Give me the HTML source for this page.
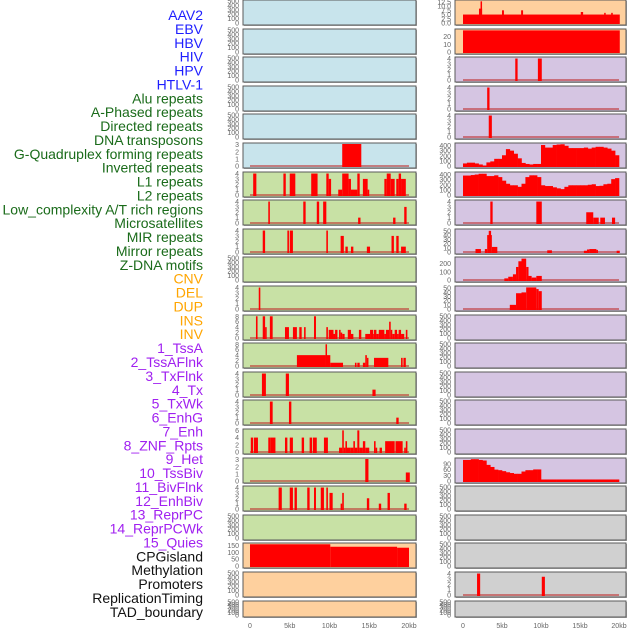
<!DOCTYPE html>
<html><head><meta charset="utf-8"><style>
html,body{margin:0;padding:0;background:#fff;width:630px;height:630px;overflow:hidden}
svg{display:block;font-family:"Liberation Sans",sans-serif}
</style></head><body>
<svg id="chart" width="630" height="630" viewBox="0 0 630 630" xmlns="http://www.w3.org/2000/svg"></svg>
<script>
const NS="http://www.w3.org/2000/svg";
const svg=document.getElementById('chart');

// ---- data ----
const trackLabels=["AAV2","EBV","HBV","HIV","HPV","HTLV-1","Alu repeats","A-Phased repeats","Directed repeats","DNA transposons","G-Quadruplex forming repeats","Inverted repeats","L1 repeats","L2 repeats","Low_complexity A/T rich regions","Microsatellites","MIR repeats","Mirror repeats","Z-DNA motifs","CNV","DEL","DUP","INS","INV","1_TssA","2_TssAFlnk","3_TxFlnk","4_Tx","5_TxWk","6_EnhG","7_Enh","8_ZNF_Rpts","9_Het","10_TssBiv","11_BivFlnk","12_EnhBiv","13_ReprPC","14_ReprPCWk","15_Quies","CPGisland","Methylation","Promoters","ReplicationTiming","TAD_boundary"];
const labelGroups=[6,13,5,15,5];
const kbTicks=[0,5,10,15,20];
const kbTickLabels=["0","5kb","10kb","15kb","20kb"];
const emptyTicks=[0,100,200,300,400,500];
const ticks04=[0,1,2,3,4];
const ticks03=[0,1,2,3];
const ticks08=[0,2,4,6,8];
const ticks06=[0,2,4,6];
const ticks400=[0,100,200,300,400];
const ticks50=[0,10,20,30,40,50];

// left column bars [startKb,endKb,value]
const L5_bars=[[11.6,14.0,3.1]];
const L6_bars=[[0.4,0.8,4],[4.2,4.5,4],[5.0,5.7,4],[7.7,8.5,4],[9.6,9.9,4],[9.9,10.2,3],[11.1,11.6,1],[11.6,12.4,4],[12.4,12.7,3],[12.7,13.5,1],[13.5,13.8,4],[14.2,14.8,3],[14.8,15.0,1],[16.9,17.2,3],[17.2,17.7,4],[17.7,18.2,3],[18.4,18.7,3],[18.7,19.0,4],[19.0,19.6,3]];
const L7_bars=[[2.3,2.5,4],[6.7,7.0,4],[8.4,8.7,4],[9.2,9.6,4],[13.6,13.9,1],[18.0,18.3,1],[19.4,19.7,3]];
const L8_bars=[[1.6,1.9,4],[4.7,4.9,4],[5.0,5.4,4],[9.6,9.8,4],[11.4,11.8,3],[12.0,12.3,1],[12.7,13.0,1],[14.7,15.1,1],[17.8,18.1,3],[18.4,18.7,3],[19.0,19.6,1]];
const L10_bars=[[1.1,1.3,4]];
const L11_bars=[[0.75,0.95,8],[1.6,1.9,8],[1.9,2.1,4],[2.5,2.85,8],[4.4,4.9,4],[5.4,5.9,4],[6.2,6.5,4],[6.8,7.0,4],[8.05,8.3,8],[9.6,9.8,4],[9.9,10.5,3],[10.5,10.7,1.5],[10.7,11.0,3],[11.2,11.4,3],[11.4,11.6,2],[11.6,11.9,1.5],[12.3,12.7,3],[12.7,13.0,1.5],[13.7,14.0,3],[14.5,15.1,1.5],[15.1,15.5,3],[15.5,15.6,1.5],[15.6,15.9,3],[15.9,16.2,1.5],[16.2,16.9,3],[16.9,17.1,1.5],[17.1,17.5,3],[17.5,17.7,6],[17.7,17.9,3],[17.9,18.2,1.5],[18.2,18.5,3],[18.5,18.7,1.5],[18.7,19.0,3],[19.0,19.4,1.5],[19.6,19.8,3]];
const L12_bars=[[5.9,9.5,4],[9.5,9.6,8],[9.6,10.1,4],[10.1,11.7,1.2],[13.2,13.4,1.2],[13.5,13.8,1.2],[14.2,14.5,1.2],[14.5,14.7,4],[14.7,14.9,3],[15.6,17.4,3],[19.0,19.2,3],[19.3,19.6,3]];
const L13_bars=[[1.5,2.0,4],[4.5,4.9,4],[15.4,15.8,1]];
const L14_bars=[[2.5,2.85,4],[4.9,5.2,4],[18.4,18.7,1]];
const L15_bars=[[0.1,0.4,4],[0.5,1.0,4],[2.3,2.6,4],[2.6,3.2,4],[4.4,4.7,4],[5.0,5.4,4],[6.5,6.8,4],[7.5,7.8,4],[7.9,8.4,4],[9.3,9.8,4],[11.2,11.6,1.2],[11.6,11.8,6],[11.8,12.0,1.2],[12.0,12.2,3],[12.2,12.6,1.2],[12.6,13.0,1.2],[13.0,13.2,3],[13.2,13.5,1.2],[13.5,13.75,6],[13.75,14.2,1.2],[14.2,14.5,3],[14.5,15.0,1.2],[15.6,15.8,3],[15.8,16.0,1.2],[16.3,16.6,1.2],[17.0,17.8,3],[17.8,18.2,3],[18.3,19.2,3],[19.4,19.6,1.2],[19.6,19.8,3]];
const L16_bars=[[14.5,14.9,3.1],[19.6,20.1,1.2]];
const L17_bars=[[3.6,4.0,4],[5.0,5.4,4],[5.6,5.9,4],[7.2,7.5,4],[8.05,8.3,4],[8.9,9.3,4],[9.6,9.8,4],[10.0,10.4,3],[11.4,11.6,1],[11.6,11.8,3],[14.7,15.0,2],[16.2,16.5,1],[17.3,17.6,3],[19.4,19.7,1]];
const L19_bars=[[0,10.1,158],[10.1,18.5,140],[18.5,20.0,133]];

// right column
const R0_bars=[[0,20.1,5],[2.05,2.45,8.5],[2.25,2.4,12.8],[5.0,5.25,7.5],[7.45,7.7,7.5],[15.1,15.4,6.5],[18.1,18.2,6],[19.0,19.2,6]];
const R0_ticks=[0,2.5,5,7.5,10,12.5];
const R0_tickLabels=["0.0","2.5","5.0","7.5","10.0","12.5"];
const R1_bars=[[0,20.1,28]];
const R1_ticks=[0,10,20];
const R2_bars=[[6.7,7.0,4],[9.6,10.1,4]];
const R3_bars=[[3.1,3.4,4]];
const R4_bars=[[3.3,3.7,4]];
const R5_curve=[50,65,65,50,30,10,70,90,140,140,210,330,300,240,150,60,40,30,40,40,410,360,360,410,420,425,395,350,350,350,350,360,340,360,375,375,360,340,300,210];
const R6_curve=[380,380,390,400,415,415,370,370,385,350,280,220,190,190,160,220,350,385,385,350,190,175,175,150,130,115,160,190,190,190,190,190,200,210,175,180,210,220,310,330];
const R7_bars=[[3.5,3.8,4],[9.4,10.1,4],[15.8,16.7,2],[16.7,17.4,1],[17.6,18.2,1],[19.1,19.5,1]];
const R8_bars=[[1.6,2.3,7],[2.8,3.1,7],[3.1,3.7,40],[3.3,3.6,50],[3.7,4.4,12],[10.8,11.4,4],[15.5,15.9,3],[15.9,16.2,6],[16.2,17.1,7],[17.1,17.3,5],[19.7,20.1,3]];
const R9_bars=[[5.3,5.8,20],[5.8,6.4,40],[6.4,6.8,70],[6.8,7.1,160],[7.1,7.5,230],[7.5,8.1,262],[8.1,8.4,160],[8.4,8.8,50],[8.8,9.4,30],[9.4,10.1,50]];
const R9_ticks=[0,100,200];
const R10_bars=[[6.0,6.8,10],[6.8,7.5,38],[7.5,8.1,40],[8.1,9.4,52],[9.4,9.7,48],[9.7,10.1,43]];
const R16_curve=[111,111,115,115,111,108,85,74,60,57,52,46,42,38,38,50,57,57,61,61,8,8,8,8,8,8,8,8,8,8,8,8,8,8,8,8,8,8,8,8];
const R16_ticks=[0,30,60,90];
const R20_bars=[[1.8,2.2,4],[10.1,10.5,3.4]];

const BLUE="#c8e4ec",GREEN="#c8e1a5",PEACH="#fed09e",PURP="#d5c5e2",GRAY="#d0d0d0";
const E={ticks:emptyTicks,ymax:500};
const leftPanels=[
 {bg:BLUE,...E},{bg:BLUE,...E},{bg:BLUE,...E},{bg:BLUE,...E},{bg:BLUE,...E},
 {bg:BLUE,ticks:ticks03,ymax:3.1,bars:L5_bars,base:1},
 {bg:GREEN,ticks:ticks04,ymax:4.1,bars:L6_bars,base:1},
 {bg:GREEN,ticks:ticks04,ymax:4.1,bars:L7_bars,base:1},
 {bg:GREEN,ticks:ticks04,ymax:4.1,bars:L8_bars,base:1},
 {bg:GREEN,...E},
 {bg:GREEN,ticks:ticks04,ymax:4.1,bars:L10_bars,base:1},
 {bg:GREEN,ticks:ticks08,ymax:8.1,bars:L11_bars,base:1},
 {bg:GREEN,ticks:ticks08,ymax:8.1,bars:L12_bars,base:1},
 {bg:GREEN,ticks:ticks04,ymax:4.1,bars:L13_bars,base:1},
 {bg:GREEN,ticks:ticks04,ymax:4.1,bars:L14_bars,base:1},
 {bg:GREEN,ticks:ticks06,ymax:6.1,bars:L15_bars,base:1},
 {bg:GREEN,ticks:ticks03,ymax:3.1,bars:L16_bars,base:1},
 {bg:GREEN,ticks:ticks04,ymax:4.1,bars:L17_bars,base:1},
 {bg:GREEN,...E},
 {bg:PEACH,ticks:[0,50,100,150],ymax:160,bars:L19_bars},
 {bg:PEACH,...E},{bg:PEACH,...E}
];
const rightPanels=[
 {bg:PEACH,ticks:R0_ticks,tickLabels:R0_tickLabels,ymax:13,bars:R0_bars},
 {bg:PEACH,ticks:R1_ticks,ymax:28.5,bars:R1_bars},
 {bg:PURP,ticks:ticks04,ymax:4.1,bars:R2_bars,base:1},
 {bg:PURP,ticks:ticks04,ymax:4.1,bars:R3_bars,base:1},
 {bg:PURP,ticks:ticks04,ymax:4.1,bars:R4_bars,base:1},
 {bg:PURP,ticks:ticks400,ymax:430,curve:R5_curve},
 {bg:PURP,ticks:ticks400,ymax:430,curve:R6_curve},
 {bg:PURP,ticks:ticks04,ymax:4.1,bars:R7_bars,base:1},
 {bg:PURP,ticks:ticks50,ymax:52,bars:R8_bars,base:1},
 {bg:PURP,ticks:R9_ticks,ymax:270,bars:R9_bars,base:1},
 {bg:PURP,ticks:ticks50,ymax:53,bars:R10_bars,base:1},
 {bg:PURP,...E},{bg:PURP,...E},{bg:PURP,...E},{bg:PURP,...E},{bg:PURP,...E},
 {bg:PURP,ticks:R16_ticks,ymax:116,curve:R16_curve},
 {bg:GRAY,...E},{bg:GRAY,...E},{bg:GRAY,...E},
 {bg:GRAY,ticks:ticks04,ymax:4.1,bars:R20_bars,base:1},
 {bg:GRAY,...E}
];

// ---- helpers ----
function mk(tag,attrs,parent){const e=document.createElementNS(NS,tag);for(const k in attrs)e.setAttribute(k,attrs[k]);(parent||svg).appendChild(e);return e;}
const cols={L:{x0:243,w:173,xs:kb=>250+kb*7.95,tickX:239},R:{x0:455,w:171,xs:kb=>463+kb*7.8,tickX:451}};
function rowTop(i){return Math.round(i*28.6);}
function rowH(i){return i===21?16:25;}

// labels
const labelColors=["#1e1eff","#1a6b1a","#ffa500","#a020f0","#111111"];
let li=0;
labelGroups.forEach((n,g)=>{for(let k=0;k<n;k++,li++){
 const t=mk('text',{x:203,y:(15+li*13.88+5).toFixed(1),'text-anchor':'end','font-size':'14',fill:labelColors[g]});
 t.textContent=trackLabels[li];
 
 
}});

function drawPanel(p,i,colKey){
 const c=cols[colKey];const top=rowTop(i),h=rowH(i);
 const g=mk('g',{});
 
 
 mk('rect',{x:c.x0+1,y:top+1,width:c.w,height:h,fill:'#aaa'},g);
 mk('rect',{x:c.x0,y:top,width:c.w,height:h,fill:p.bg,stroke:'#5a5a5a','stroke-width':1},g);
 const yb=top+h-2,yt=top+1;
 const ys=v=>yb-(v/p.ymax)*(yb-yt);
 if(p.base){const b=mk('line',{x1:c.xs(0),x2:c.xs(20),y1:yb,y2:yb,stroke:'rgba(190,40,40,0.55)','stroke-width':2},g);
  
  }
 (p.bars||[]).forEach(b=>{
  const x1=c.xs(b[0]),x2=c.xs(b[1]);
  const r=mk('rect',{x:x1,y:ys(b[2]),width:Math.max(1.5,x2-x1),height:yb-ys(b[2])+1,fill:'#ff0000'},g);
  
  
 });
 (p.curve||[]).forEach((v,k)=>{
  const x1=c.xs(k*0.5),x2=c.xs(k*0.5+0.5);
  const r=mk('rect',{x:x1,y:ys(v),width:x2-x1+0.3,height:yb-ys(v)+1,fill:'#ff0000'},g);
  
  
 });
 p.ticks.forEach((tv,k)=>{
  const t=mk('text',{x:c.tickX,y:(ys(tv)+2.5).toFixed(1),'text-anchor':'end','font-size':'7',fill:'#666'},g);
  t.textContent=p.tickLabels?p.tickLabels[k]:String(tv);
  
  
 });
}
leftPanels.forEach((p,i)=>drawPanel(p,i,'L'));
rightPanels.forEach((p,i)=>drawPanel(p,i,'R'));

['L','R'].forEach(ck=>{
 kbTicks.forEach((kb,k)=>{
  const t=mk('text',{x:cols[ck].xs(kb),y:628,'text-anchor':'middle','font-size':'7',fill:'#666'});
  t.textContent=kbTickLabels[k];
  
  
 });
});
</script>
</body></html>
